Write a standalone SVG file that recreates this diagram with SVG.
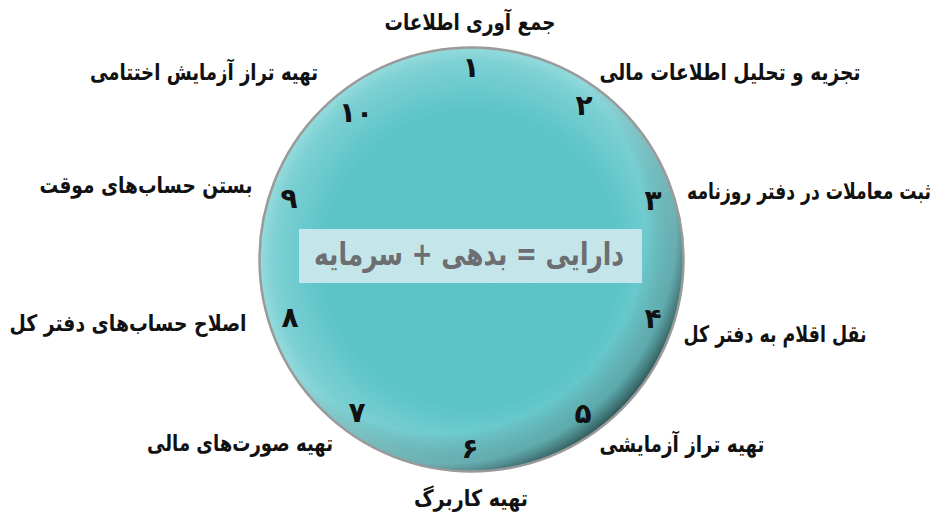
<svg xmlns="http://www.w3.org/2000/svg" width="941" height="517" viewBox="0 0 941 517">
<style>
.lbl{font-family:"DejaVu Sans",sans-serif;font-weight:bold;font-size:17.5px;fill:#111;text-anchor:middle}
.num{font-family:"DejaVu Sans",sans-serif;font-weight:bold;font-size:28px;fill:#111;text-anchor:middle}
.eq{font-family:"DejaVu Sans",sans-serif;font-weight:bold;font-size:32px;fill:#6d6e71;text-anchor:middle}
</style>
<defs>
<radialGradient id="face" cx="0.5" cy="0.5" r="0.5">
<stop offset="0" stop-color="#5ac3c6"/>
<stop offset="0.7" stop-color="#5cc4c7"/>
<stop offset="0.93" stop-color="#7dd0d3"/>
<stop offset="1" stop-color="#95dbdd"/>
</radialGradient>
<radialGradient id="shade" cx="0.43" cy="0.43" r="0.6">
<stop offset="0" stop-color="#000" stop-opacity="0"/>
<stop offset="0.8" stop-color="#000" stop-opacity="0"/>
<stop offset="0.92" stop-color="#0a3a3c" stop-opacity="0.25"/>
<stop offset="1" stop-color="#062224" stop-opacity="0.75"/>
</radialGradient>
<clipPath id="cc"><circle cx="471.5" cy="259.5" r="212"/></clipPath>
</defs>
<g id="dial">
<circle cx="471.5" cy="259.5" r="212" fill="url(#face)"/>
<circle cx="471.5" cy="259.5" r="212" fill="url(#shade)" clip-path="url(#cc)"/>
<circle cx="471.5" cy="259.5" r="212" fill="none" stroke="#9a9a9a" stroke-width="2.5"/>
</g>
<g id="center">
<rect x="299" y="229" width="343" height="54" fill="#c4e6ea"/>
<text class="eq" x="469" y="265" direction="rtl" textLength="310" lengthAdjust="spacingAndGlyphs">دارایی = بدهی + سرمایه</text>
</g>
<g id="numbers">
<text class="num" x="471" y="77">۱</text>
<text class="num" x="584" y="115">۲</text>
<text class="num" x="653" y="210">۳</text>
<text class="num" x="653" y="328">۴</text>
<text class="num" x="583" y="423">۵</text>
<text class="num" x="470" y="458">۶</text>
<text class="num" x="357" y="422">۷</text>
<text class="num" x="290" y="327">۸</text>
<text class="num" x="289" y="208">۹</text>
<text class="num" x="356" y="122">۱۰</text>
</g>
<g id="step1"><text class="lbl" transform="translate(470,30) scale(1,1.3)" direction="rtl" textLength="171" lengthAdjust="spacingAndGlyphs">جمع آوری اطلاعات</text></g>
<g id="step2"><text class="lbl" transform="translate(730,80) scale(1,1.3)" direction="rtl" textLength="261" lengthAdjust="spacingAndGlyphs">تجزیه و تحلیل اطلاعات مالی</text></g>
<g id="step3"><text class="lbl" transform="translate(809,199) scale(1,1.3)" direction="rtl" textLength="244" lengthAdjust="spacingAndGlyphs">ثبت معاملات در دفتر روزنامه</text></g>
<g id="step4"><text class="lbl" transform="translate(775,342) scale(1,1.3)" direction="rtl" textLength="183" lengthAdjust="spacingAndGlyphs">نقل اقلام به دفتر کل</text></g>
<g id="step5"><text class="lbl" transform="translate(682,452) scale(1,1.3)" direction="rtl" textLength="165" lengthAdjust="spacingAndGlyphs">تهیه تراز آزمایشی</text></g>
<g id="step6"><text class="lbl" transform="translate(471,506) scale(1,1.3)" direction="rtl" textLength="114" lengthAdjust="spacingAndGlyphs">تهیه کاربرگ</text></g>
<g id="step7"><text class="lbl" transform="translate(240,451) scale(1,1.3)" direction="rtl" textLength="186" lengthAdjust="spacingAndGlyphs">تهیه صورت‌های مالی</text></g>
<g id="step8"><text class="lbl" transform="translate(128,331) scale(1,1.3)" direction="rtl" textLength="237" lengthAdjust="spacingAndGlyphs">اصلاح حساب‌های دفتر کل</text></g>
<g id="step9"><text class="lbl" transform="translate(146,193) scale(1,1.3)" direction="rtl" textLength="213" lengthAdjust="spacingAndGlyphs">بستن حساب‌های موقت</text></g>
<g id="step10"><text class="lbl" transform="translate(204,80) scale(1,1.3)" direction="rtl" textLength="228" lengthAdjust="spacingAndGlyphs">تهیه  تراز آزمایش اختتامی</text></g>
</svg>
